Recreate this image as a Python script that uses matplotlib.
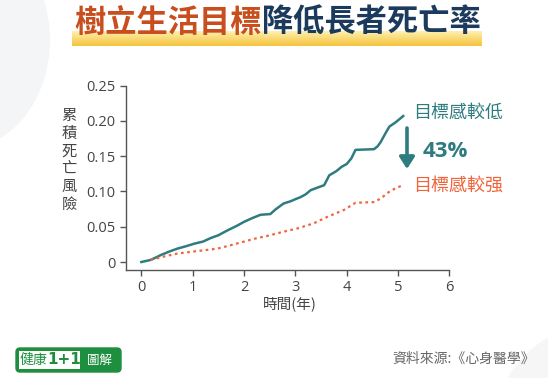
import numpy as np
import matplotlib.pyplot as plt
from matplotlib.patches import FancyBboxPatch, Rectangle, Ellipse

plt.rcParams['font.family'] = ['Noto Sans CJK TC', 'DejaVu Sans']

# 目標感較低 (teal)
low_x = [0.0, 0.18, 0.30, 0.38, 0.55, 0.70, 0.85, 1.03, 1.2, 1.35, 1.5, 1.68, 1.85, 2.0,
         2.15, 2.32, 2.51, 2.62, 2.77, 2.9, 3.03, 3.1, 3.2, 3.3, 3.45, 3.56, 3.66, 3.8,
         3.9, 4.0, 4.09, 4.17, 4.53, 4.6, 4.66, 4.75, 4.83, 4.95, 5.1]
low_y = [0.0, 0.003, 0.007, 0.010, 0.015, 0.019, 0.022, 0.026, 0.029, 0.034, 0.038,
         0.045, 0.051, 0.057, 0.062, 0.067, 0.068, 0.075, 0.083, 0.086, 0.090, 0.092,
         0.096, 0.102, 0.106, 0.109, 0.123, 0.129, 0.135, 0.139, 0.147, 0.159, 0.160,
         0.164, 0.170, 0.182, 0.192, 0.198, 0.207]

# 目標感較強 (orange)
high_x = [0.18, 0.45, 0.70, 1.03, 1.48, 1.75, 2.0, 2.2, 2.45, 2.77, 3.06, 3.36, 3.56,
          3.75, 3.95, 4.17, 4.53, 4.66, 4.85, 5.09]
high_y = [0.003, 0.008, 0.012, 0.015, 0.019, 0.024, 0.029, 0.033, 0.037, 0.043, 0.048,
          0.055, 0.062, 0.068, 0.074, 0.084, 0.085, 0.090, 0.101, 0.109]

x_ticks = [0, 1, 2, 3, 4, 5, 6]
y_ticks = [0, 0.05, 0.10, 0.15, 0.20, 0.25]
y_labels = ['0', '0.05', '0.10', '0.15', '0.20', '0.25']

teal = '#2f7c80'
orange = '#f0643a'
grey = '#555555'

fig = plt.figure(figsize=(5.48, 3.78), dpi=100)
fig.patch.set_facecolor('white')

# light background shapes
bg = fig.add_axes([0, 0, 1, 1], zorder=-5)
bg.set_xlim(0, 548)
bg.set_ylim(378, 0)
bg.axis('off')
bg.add_patch(Ellipse((-40, 40), 180, 220, color='#f4f5f7', lw=0))
bg.add_patch(Ellipse((610, 440), 240, 240, color='#f6f6f7', lw=0))

# yellow highlight band under title
bax = fig.add_axes([72 / 548, 1 - 46 / 378, 410 / 548, 15 / 378], zorder=-1)
grad = np.linspace(0, 1, 30).reshape(-1, 1)
bax.imshow(grad, cmap=plt.matplotlib.colors.LinearSegmentedColormap.from_list(
    'y', ['#fdf0b0', '#f5c33b']), aspect='auto')
bax.axis('off')

fig.text(262 / 548, 1 - 23 / 378, '樹立生活目標', ha='right', va='center',
         fontsize=22.5, fontweight='black', color='#c84e1e')
fig.text(262 / 548, 1 - 23 / 378, '降低長者死亡率', ha='left', va='center',
         fontsize=22.5, fontweight='black', color='#1b3a5c')

ax = fig.add_axes([126 / 548, 1 - 270 / 378, (452 - 126) / 548, (270 - 85.7) / 378])
ax.set_facecolor('none')
ax.plot(low_x, low_y, color=teal, lw=1.8)
ax.plot(high_x, high_y, color=orange, lw=1.6, ls=(0, (1.2, 1.6)))

ax.set_xlim(-0.3, 6.05)
ax.set_ylim(-0.0113, 0.25)
ax.set_xticks(x_ticks)
ax.set_yticks(y_ticks)
ax.set_yticklabels(y_labels)
for s in ['top', 'right']:
    ax.spines[s].set_visible(False)
for s in ['left', 'bottom']:
    ax.spines[s].set_color(grey)
    ax.spines[s].set_linewidth(1.0)
ax.spines['left'].set_bounds(-0.0113, 0.25)
ax.spines['bottom'].set_bounds(-0.3, 6.0)
ax.tick_params(colors=grey, labelcolor='#444444', labelsize=10.5, length=4, width=1)
for lab in ax.get_xticklabels() + ax.get_yticklabels():
    lab.set_family(['Open Sans', 'DejaVu Sans'])

fig.text(69 / 548, 1 - 160 / 378, '累\n積\n死\n亡\n風\n險', ha='center', va='center',
         fontsize=11, color='#444444', linespacing=1.05)
fig.text(290 / 548, 1 - 304 / 378, '時間(年)', ha='center', va='center',
         fontsize=10.5, color='#444444')

fig.text(413 / 548, 1 - 113 / 378, '目標感較低', ha='left', va='center',
         fontsize=13, color=teal)
fig.text(413 / 548, 1 - 186 / 378, '目標感較强', ha='left', va='center',
         fontsize=13, color=orange)
fig.text(423 / 548, 1 - 151 / 378, '43%', ha='left', va='center',
         fontsize=16, fontweight='bold', color=teal, family=['Open Sans', 'DejaVu Sans'])
bg2 = fig.add_axes([0, 0, 1, 1], zorder=5)
bg2.set_xlim(0, 548)
bg2.set_ylim(378, 0)
bg2.axis('off')
bg2.annotate('', xy=(407, 169), xytext=(407, 128),
             arrowprops=dict(arrowstyle='-|>,head_width=0.45,head_length=0.7',
                             color=teal, lw=2.6, shrinkA=0, shrinkB=0))

# footer logo
bg2.add_patch(FancyBboxPatch((16, 348), 105, 24, boxstyle='round,pad=0,rounding_size=4',
                             fc='#1e8f3e', ec='#1e8f3e', lw=1))
bg2.add_patch(Rectangle((19, 351), 61, 18, fc='white', ec='none'))
bg2.text(47, 360, '健康', ha='right', va='center', fontsize=10, color='#1e8f3e')
bg2.text(47, 360, '1+1', ha='left', va='center', fontsize=11, fontweight='bold',
         color='#1e8f3e', family=['DejaVu Sans'])
bg2.text(100, 360, '圖解', ha='center', va='center', fontsize=9, color='white')
bg2.text(535, 359, '資料來源:《心身醫學》', ha='right', va='center', fontsize=10,
         color='#666666')

fig.savefig('out.png', dpi=100)
